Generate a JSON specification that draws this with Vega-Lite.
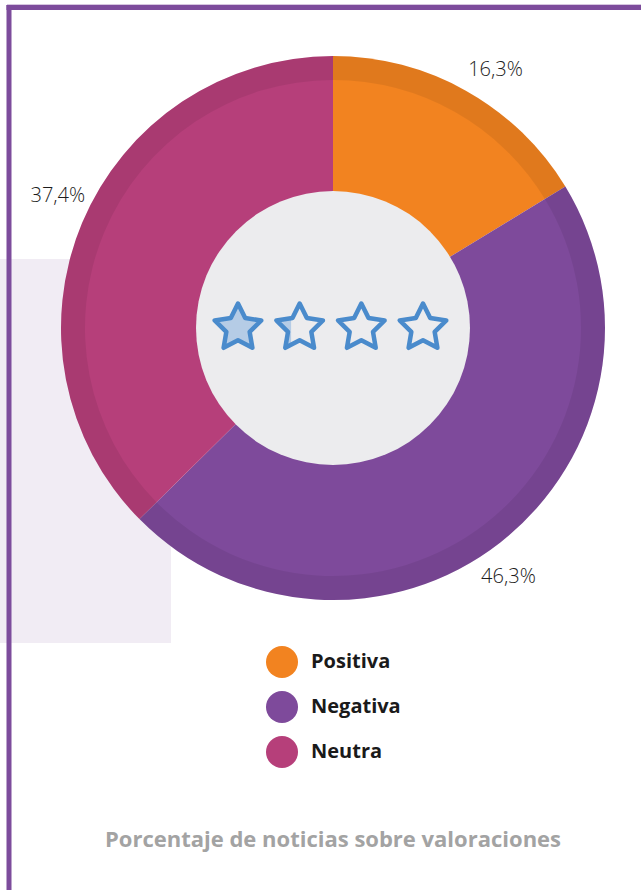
{
  "$schema": "https://vega.github.io/schema/vega-lite/v6.json",
  "width": 641,
  "height": 890,
  "autosize": {"type": "none"},
  "padding": 0,
  "background": "#ffffff",
  "config": {"view": {"stroke": null}, "font": "Open Sans"},
  "resolve": {"scale": {"x": "independent"}},
  "layer": [
    {
      "layer": [
        {
          "data": {"values": [{}]},
          "mark": {"type": "rect", "color": "#f1ecf4"},
          "encoding": {
            "x": {"datum": 0, "type": "quantitative", "scale": {"domain": [0, 641], "nice": false, "zero": false}, "axis": null},
            "x2": {"datum": 171},
            "y": {"datum": 259, "type": "quantitative", "scale": {"domain": [0, 890], "nice": false, "zero": false, "reverse": true}, "axis": null},
            "y2": {"datum": 643}
          }
        },
        {
          "data": {"values": [{}]},
          "mark": {"type": "rule", "color": "#d6c6e0", "strokeWidth": 1},
          "encoding": {
            "x": {"datum": 7, "type": "quantitative", "axis": null},
            "x2": {"datum": 641},
            "y": {"datum": 4.5, "type": "quantitative", "axis": null}
          }
        },
        {
          "data": {"values": [{}]},
          "mark": {"type": "rule", "color": "#7d4c9c", "strokeWidth": 5},
          "encoding": {
            "x": {"datum": 6.5, "type": "quantitative", "axis": null},
            "x2": {"datum": 641},
            "y": {"datum": 7.5, "type": "quantitative", "axis": null}
          }
        },
        {
          "data": {"values": [{}]},
          "mark": {"type": "rule", "color": "#7d4c9c", "strokeWidth": 5},
          "encoding": {
            "x": {"datum": 9, "type": "quantitative", "axis": null},
            "y": {"datum": 5, "type": "quantitative", "axis": null},
            "y2": {"datum": 890}
          }
        },
        {
          "data": {"name": "valoraciones", "values": [
            {"valoracion": "Positiva", "porcentaje": 16.3, "etiqueta": "16,3%", "orden": 1},
            {"valoracion": "Negativa", "porcentaje": 46.3, "etiqueta": "46,3%", "orden": 2},
            {"valoracion": "Neutra", "porcentaje": 37.4, "etiqueta": "37,4%", "orden": 3}
          ]},
          "layer": [
            {
              "mark": {"type": "arc", "outerRadius": 272, "innerRadius": 0},
              "encoding": {
                "x": {"datum": 333, "type": "quantitative", "axis": null},
                "y": {"datum": 328, "type": "quantitative", "axis": null},
                "theta": {"field": "porcentaje", "type": "quantitative", "stack": true},
                "order": {"field": "orden", "type": "quantitative"},
                "color": {
                  "field": "valoracion",
                  "type": "nominal",
                  "scale": {"domain": ["Positiva", "Negativa", "Neutra"], "range": ["#f28320", "#7e4a9b", "#b63f7a"]},
                  "legend": {
                    "orient": "none",
                    "legendX": 266,
                    "legendY": 646,
                    "title": null,
                    "padding": 0,
                    "symbolType": "circle",
                    "symbolSize": 1024,
                    "symbolStrokeWidth": 0,
                    "symbolOpacity": 1,
                    "labelFont": "Open Sans",
                    "labelFontWeight": "bold",
                    "labelFontSize": 20,
                    "labelColor": "#1a1a1a",
                    "labelOffset": 13,
                    "rowPadding": 13
                  }
                }
              }
            },
            {
              "mark": {"type": "arc", "outerRadius": 272, "innerRadius": 248, "color": "#000000", "opacity": 0.07},
              "encoding": {
                "x": {"datum": 333, "type": "quantitative", "axis": null},
                "y": {"datum": 328, "type": "quantitative", "axis": null},
                "theta": {"field": "porcentaje", "type": "quantitative", "stack": true},
                "order": {"field": "orden", "type": "quantitative"}
              }
            },
            {
              "mark": {"type": "text", "radius": 305, "thetaOffset": 0.05, "font": "Open Sans", "fontWeight": 300, "fontSize": 20, "color": "#1c1c1c", "align": "center", "baseline": "middle"},
              "encoding": {
                "x": {"datum": 333, "type": "quantitative", "axis": null},
                "y": {"datum": 328, "type": "quantitative", "axis": null},
                "theta": {"field": "porcentaje", "type": "quantitative", "stack": true},
                "order": {"field": "orden", "type": "quantitative"},
                "text": {"field": "etiqueta", "type": "nominal"}
              }
            }
          ]
        },
        {
          "data": {"values": [{}]},
          "mark": {"type": "point", "shape": "circle", "filled": true, "size": 75076, "color": "#ececee", "opacity": 1, "strokeWidth": 0},
          "encoding": {
            "x": {"datum": 333, "type": "quantitative", "axis": null},
            "y": {"datum": 328, "type": "quantitative", "axis": null}
          }
        },
        {
          "data": {"values": [{"titulo": "Porcentaje de noticias sobre valoraciones"}]},
          "mark": {"type": "text", "font": "Open Sans", "fontWeight": "bold", "fontSize": 22, "color": "#a3a3a3", "align": "center", "baseline": "alphabetic"},
          "encoding": {
            "x": {"datum": 333, "type": "quantitative", "axis": null},
            "y": {"datum": 847, "type": "quantitative", "axis": null},
            "text": {"field": "titulo", "type": "nominal"}
          }
        }
      ]
    },
    {
      "data": {"values": [
        {"estrella": 1, "relleno": "completo"},
        {"estrella": 2, "relleno": "parcial"},
        {"estrella": 3, "relleno": "vacío"},
        {"estrella": 4, "relleno": "vacío"}
      ]},
      "layer": [
        {
          "transform": [{"filter": "datum.relleno !== 'vacío'"}],
          "mark": {"type": "point", "filled": true, "size": 2400, "color": "#b5cce6", "opacity": 1, "strokeWidth": 0},
          "encoding": {
            "x": {"field": "estrella", "type": "quantitative", "scale": {"domain": [1, 4], "range": [238, 423], "nice": false, "zero": false}, "axis": null},
            "y": {"datum": 328, "type": "quantitative", "axis": null},
            "shape": {
              "field": "relleno",
              "type": "nominal",
              "scale": {
                "domain": ["completo", "parcial"],
                "range": [
                  "M0,-1L0.294,-0.405L0.951,-0.309L0.476,0.155L0.588,0.809L0,0.5L-0.588,0.809L-0.476,0.155L-0.951,-0.309L-0.294,-0.405Z",
                  "M-0.35,0.684L-0.588,0.809L-0.476,0.155L-0.951,-0.309L-0.35,-0.397Z"
                ]
              },
              "legend": null
            }
          }
        },
        {
          "mark": {
            "type": "point",
            "filled": false,
            "size": 2400,
            "shape": "M0,-1L0.294,-0.405L0.951,-0.309L0.476,0.155L0.588,0.809L0,0.5L-0.588,0.809L-0.476,0.155L-0.951,-0.309L-0.294,-0.405Z",
            "stroke": "#4a8bcc",
            "strokeWidth": 4.5,
            "strokeJoin": "round",
            "opacity": 1
          },
          "encoding": {
            "x": {"field": "estrella", "type": "quantitative", "scale": {"domain": [1, 4], "range": [238, 423], "nice": false, "zero": false}, "axis": null},
            "y": {"datum": 328, "type": "quantitative", "axis": null}
          }
        }
      ]
    }
  ]
}
